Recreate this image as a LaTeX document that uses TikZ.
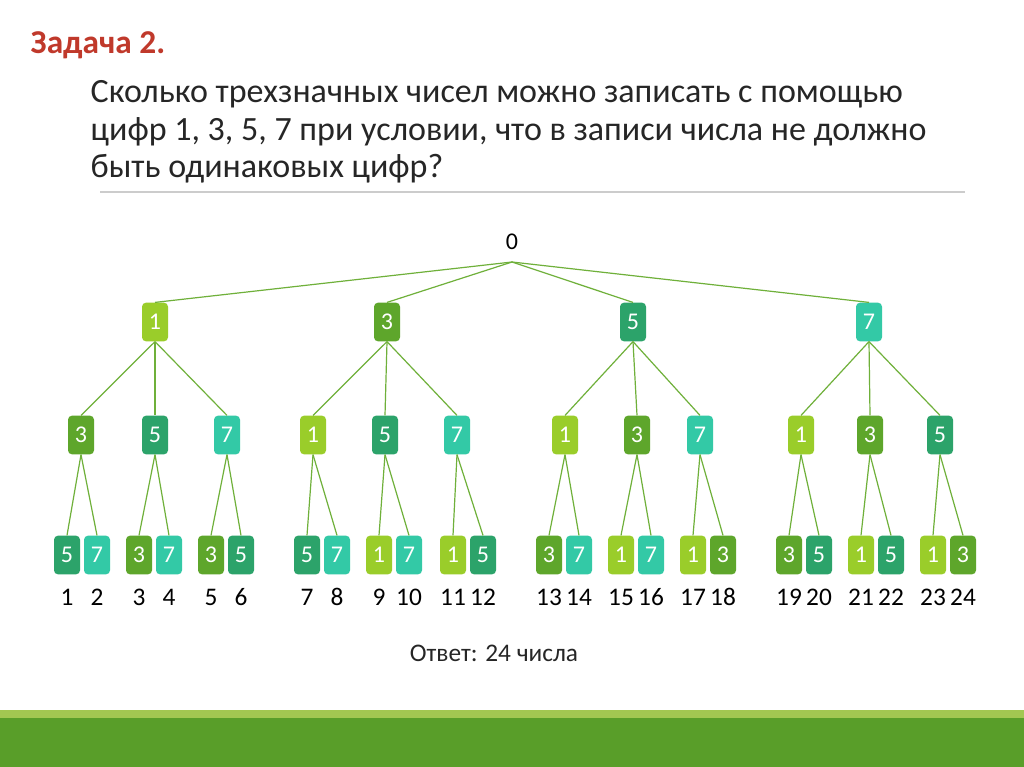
\documentclass[tikz,border=0pt]{standalone}
\usepackage{fontspec}
\setmainfont{Carlito}
\definecolor{cone}{HTML}{9ACD2A}
\definecolor{cthree}{HTML}{5EA62B}
\definecolor{cfive}{HTML}{2CA36A}
\definecolor{cseven}{HTML}{33C9A6}
\definecolor{edge}{HTML}{6FB03A}
\definecolor{title}{HTML}{C0392B}
\tikzset{
  box/.style={rounded corners=3pt,text=white,minimum width=19.5pt,
    minimum height=29pt,inner sep=0pt,font=\fontsize{18}{18}\selectfont},
  d1/.style={box,fill=cone},
  d3/.style={box,fill=cthree},
  d5/.style={box,fill=cfive},
  d7/.style={box,fill=cseven},
  link/.style={draw=edge,line width=0.9pt}}
\begin{document}
\begin{tikzpicture}[x=0.75pt,y=-0.75pt]
  \useasboundingbox (0,0) rectangle (1024,767);
  \fill[white] (0,0) rectangle (1024,767);
  \fill[cone!90!black!80] (0,710) rectangle (1024,718);
  \fill[cthree!95!black] (0,718) rectangle (1024,767);

  % Heading
  \node[anchor=west,text=title,font=\fontsize{25}{25}\selectfont\bfseries] (head) at (26,45) {Задача 2.};
  \node[anchor=north west,align=left,font=\fontsize{25.5}{28}\selectfont,text=black!85] (task) at (86,76)
    {Сколько трехзначных чисел можно записать с помощью\\
     цифр 1, 3, 5, 7 при условии, что в записи числа не должно\\
     быть одинаковых цифр?};
  \draw[black!20,line width=0.8pt] (100,192) -- (965,192);

  % Tree
  \node[font=\fontsize{18}{18}\selectfont] (R) at (512,242) {0};
  \coordinate (Rb) at (512,262);
  \node[d1] (A) at (155,322) {1};
  \node[d3] (B) at (387,322) {3};
  \node[d5] (C) at (633,322) {5};
  \node[d7] (D) at (869,322) {7};
  \foreach \n in {A,B,C,D} \draw[link] (Rb) -- (\n.north);

  \node[d3] (A1) at (81,435) {3};
  \node[d5] (A2) at (155,435) {5};
  \node[d7] (A3) at (227,435) {7};
  \node[d1] (B1) at (313,435) {1};
  \node[d5] (B2) at (385,435) {5};
  \node[d7] (B3) at (457,435) {7};
  \node[d1] (C1) at (565,435) {1};
  \node[d3] (C2) at (637,435) {3};
  \node[d7] (C3) at (700,435) {7};
  \node[d1] (D1) at (801,435) {1};
  \node[d3] (D2) at (870,435) {3};
  \node[d5] (D3) at (940,435) {5};
  \foreach \p in {A,B,C,D}
    \foreach \k in {1,2,3} \draw[link] (\p.south) -- (\p\k.north);

  % Leaves
  \foreach \x/\d/\p [count=\i] in {
      67/5/A1,97/7/A1,139/3/A2,169/7/A2,211/3/A3,241/5/A3,
      307/5/B1,337/7/B1,379/1/B2,409/7/B2,453/1/B3,483/5/B3,
      549/3/C1,579/7/C1,621/1/C2,651/7/C2,693/1/C3,723/3/C3,
      789/3/D1,819/5/D1,861/1/D2,891/5/D2,933/1/D3,963/3/D3} {
    \node[d\d] (L\i) at (\x,555) {\d};
    \node[font=\fontsize{19}{19}\selectfont] (N\i) at (\x,597) {\i};
    \draw[link] (\p.south) -- (L\i.north);
  }

  \node[font=\fontsize{19}{19}\selectfont,text=black!85] (ans) at (494,653) {Ответ: 24 числа};
\end{tikzpicture}
\end{document}
